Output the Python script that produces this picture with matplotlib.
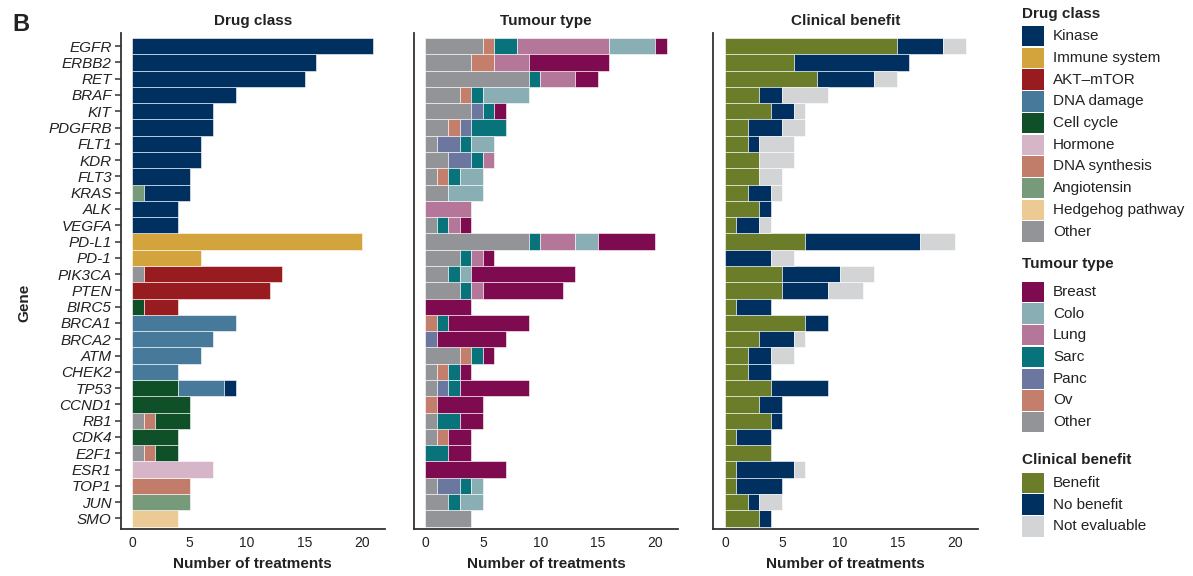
"""
Gene-level treatment counts split by drug class, tumour type and clinical benefit
"""
import numpy as np
import matplotlib
matplotlib.use('Agg')
import matplotlib.pyplot as plt
from matplotlib.patches import Rectangle

plt.rcParams['font.family'] = ['Liberation Sans', 'DejaVu Sans']

genes = ['EGFR', 'ERBB2', 'RET', 'BRAF', 'KIT', 'PDGFRB', 'FLT1', 'KDR', 'FLT3',
         'KRAS', 'ALK', 'VEGFA', 'PD-L1', 'PD-1', 'PIK3CA', 'PTEN', 'BIRC5',
         'BRCA1', 'BRCA2', 'ATM', 'CHEK2', 'TP53', 'CCND1', 'RB1', 'CDK4',
         'E2F1', 'ESR1', 'TOP1', 'JUN', 'SMO']

# Drug class counts (one value per gene, same order as genes)
kinase =        [21, 16, 15, 9, 7, 7, 6, 6, 5, 4, 4, 4, 0, 0, 0, 0, 0, 0, 0, 0, 0, 1, 0, 0, 0, 0, 0, 0, 0, 0]
immune =        [0, 0, 0, 0, 0, 0, 0, 0, 0, 0, 0, 0, 20, 6, 0, 0, 0, 0, 0, 0, 0, 0, 0, 0, 0, 0, 0, 0, 0, 0]
akt_mtor =      [0, 0, 0, 0, 0, 0, 0, 0, 0, 0, 0, 0, 0, 0, 12, 12, 3, 0, 0, 0, 0, 0, 0, 0, 0, 0, 0, 0, 0, 0]
dna_damage =    [0, 0, 0, 0, 0, 0, 0, 0, 0, 0, 0, 0, 0, 0, 0, 0, 0, 9, 7, 6, 4, 4, 0, 0, 0, 0, 0, 0, 0, 0]
cell_cycle =    [0, 0, 0, 0, 0, 0, 0, 0, 0, 0, 0, 0, 0, 0, 0, 0, 1, 0, 0, 0, 0, 4, 5, 3, 4, 2, 0, 0, 0, 0]
hormone =       [0, 0, 0, 0, 0, 0, 0, 0, 0, 0, 0, 0, 0, 0, 0, 0, 0, 0, 0, 0, 0, 0, 0, 0, 0, 0, 7, 0, 0, 0]
dna_synthesis = [0, 0, 0, 0, 0, 0, 0, 0, 0, 0, 0, 0, 0, 0, 0, 0, 0, 0, 0, 0, 0, 0, 0, 1, 0, 1, 0, 5, 0, 0]
angiotensin =   [0, 0, 0, 0, 0, 0, 0, 0, 0, 1, 0, 0, 0, 0, 0, 0, 0, 0, 0, 0, 0, 0, 0, 0, 0, 0, 0, 0, 5, 0]
hedgehog =      [0, 0, 0, 0, 0, 0, 0, 0, 0, 0, 0, 0, 0, 0, 0, 0, 0, 0, 0, 0, 0, 0, 0, 0, 0, 0, 0, 0, 0, 4]
drug_other =    [0, 0, 0, 0, 0, 0, 0, 0, 0, 0, 0, 0, 0, 0, 1, 0, 0, 0, 0, 0, 0, 0, 0, 1, 0, 1, 0, 0, 0, 0]

# Tumour type counts
breast =        [1, 7, 2, 0, 1, 0, 0, 0, 0, 0, 0, 1, 5, 1, 9, 7, 4, 7, 6, 1, 1, 6, 4, 2, 2, 2, 7, 0, 0, 0]
colo =          [4, 0, 0, 4, 0, 0, 2, 0, 2, 3, 0, 0, 2, 0, 1, 0, 0, 0, 0, 0, 0, 0, 0, 0, 0, 0, 0, 1, 2, 0]
lung =          [8, 3, 3, 0, 0, 0, 0, 1, 0, 0, 4, 1, 3, 1, 0, 1, 0, 0, 0, 0, 0, 0, 0, 0, 0, 0, 0, 0, 0, 0]
sarc =          [2, 0, 1, 1, 1, 3, 1, 1, 1, 0, 0, 1, 1, 1, 1, 1, 0, 1, 0, 1, 1, 1, 0, 2, 0, 2, 0, 1, 1, 0]
panc =          [0, 0, 0, 0, 1, 1, 2, 2, 0, 0, 0, 0, 0, 0, 0, 0, 0, 0, 1, 0, 0, 1, 0, 0, 0, 0, 0, 2, 0, 0]
ov =            [1, 2, 0, 1, 0, 1, 0, 0, 1, 0, 0, 0, 0, 0, 0, 0, 0, 1, 0, 1, 1, 0, 1, 0, 1, 0, 0, 0, 0, 0]
tumour_other =  [5, 4, 9, 3, 4, 2, 1, 2, 1, 2, 0, 1, 9, 3, 2, 3, 0, 0, 0, 3, 1, 1, 0, 1, 1, 0, 0, 1, 2, 4]

# Clinical benefit counts
benefit =       [15, 6, 8, 3, 4, 2, 2, 3, 3, 2, 3, 1, 7, 0, 5, 5, 1, 7, 3, 2, 2, 4, 3, 4, 1, 4, 1, 1, 2, 3]
no_benefit =    [4, 10, 5, 2, 2, 3, 1, 0, 0, 2, 1, 2, 10, 4, 5, 4, 3, 2, 3, 2, 2, 5, 2, 1, 3, 0, 5, 4, 1, 1]
not_evaluable = [2, 0, 2, 4, 1, 2, 3, 3, 2, 1, 0, 1, 3, 2, 3, 3, 0, 0, 1, 2, 0, 0, 0, 0, 0, 0, 1, 0, 2, 0]

drug_labels = ['Kinase', 'Immune system', 'AKT\u2013mTOR', 'DNA damage', 'Cell cycle',
               'Hormone', 'DNA synthesis', 'Angiotensin', 'Hedgehog pathway', 'Other']
drug_colors = ['#00305f', '#d3a43c', '#981b1f', '#47799a', '#0f5029',
               '#d6b5c9', '#c27d6a', '#779a7b', '#ebcb93', '#929497']
drug_values = [kinase, immune, akt_mtor, dna_damage, cell_cycle,
               hormone, dna_synthesis, angiotensin, hedgehog, drug_other]

tumour_labels = ['Breast', 'Colo', 'Lung', 'Sarc', 'Panc', 'Ov', 'Other']
tumour_colors = ['#7e0b50', '#89aeb3', '#b47799', '#08737a', '#6b779e', '#c47f6c', '#929497']
tumour_values = [breast, colo, lung, sarc, panc, ov, tumour_other]

benefit_labels = ['Benefit', 'No benefit', 'Not evaluable']
benefit_colors = ['#6b7d29', '#00305f', '#d3d4d6']
benefit_values = [benefit, no_benefit, not_evaluable]

TXT = '#222222'
W, H = 1193, 576

fig = plt.figure(figsize=(W / 100, H / 100), dpi=100)
y = np.arange(len(genes))

# drug / tumour stacked in reverse legend order, benefit in legend order
panels = [
    ('Drug class', list(zip(drug_values, drug_colors))[::-1], 0.1012),
    ('Tumour type', list(zip(tumour_values, tumour_colors))[::-1], 0.347),
    ('Clinical benefit', list(zip(benefit_values, benefit_colors)), 0.598),
]

axes = []
for title, series, left_pos in panels:
    ax = fig.add_axes([left_pos, 0.0816, 0.2215, 0.861])
    left = np.zeros(len(genes))
    for vals, color in series:
        vals = np.array(vals, dtype=float)
        m = vals > 0
        ax.barh(y[m], vals[m], left=left[m], height=1.0, color=color,
                edgecolor='white', linewidth=0.4)
        left += vals
    ax.set_xlim(-1, 22)
    ax.set_ylim(29.65, -0.8)
    ax.set_xticks([0, 5, 10, 15, 20])
    ax.set_title(title, fontsize=11, fontweight='bold', color=TXT, pad=6)
    ax.set_xlabel('Number of treatments', fontsize=11, fontweight='bold',
                  color=TXT, labelpad=5)
    ax.spines[['top', 'right']].set_visible(False)
    ax.spines[['left', 'bottom']].set_color('#333333')
    ax.spines[['left', 'bottom']].set_linewidth(1.3)
    ax.tick_params(axis='x', length=0, pad=5, labelsize=10, labelcolor=TXT)
    axes.append(ax)

ax1 = axes[0]
ax1.set_yticks(y)
ax1.set_yticklabels(genes, fontsize=11, fontstyle='italic', color=TXT)
ax1.tick_params(axis='y', length=4, width=1.1, color='#333333', pad=2.5)
ax1.set_ylabel('Gene', fontsize=11, fontweight='bold', color=TXT,
               labelpad=12, y=0.456)
for ax in axes[1:]:
    ax.set_yticks([])

fig.text(0.010, 0.958, 'B', fontsize=17, fontweight='bold', color=TXT, va='center')

# Legends drawn on an overlay axes in pixel units
lax = fig.add_axes([0, 0, 1, 1])
lax.set_xlim(0, W)
lax.set_ylim(H, 0)
lax.axis('off')

STEP, BOX_H = 21.7, 20.4
for title, labels, colors, title_base, first_top in [
        ('Drug class', drug_labels, drug_colors, 18, 26),
        ('Tumour type', tumour_labels, tumour_colors, 268, 281.7),
        ('Clinical benefit', benefit_labels, benefit_colors, 464.5, 472.7)]:
    lax.text(1022, title_base, title, fontsize=11, fontweight='bold',
             color=TXT, va='baseline', ha='left')
    for i, (lab, col) in enumerate(zip(labels, colors)):
        top = first_top + i * STEP
        lax.add_patch(Rectangle((1022, top), 22, BOX_H, facecolor=col, edgecolor='none'))
        lax.text(1053, top + BOX_H / 2, lab, fontsize=11, color=TXT,
                 va='center', ha='left')

plt.savefig('out.png', dpi=100, facecolor='white')
